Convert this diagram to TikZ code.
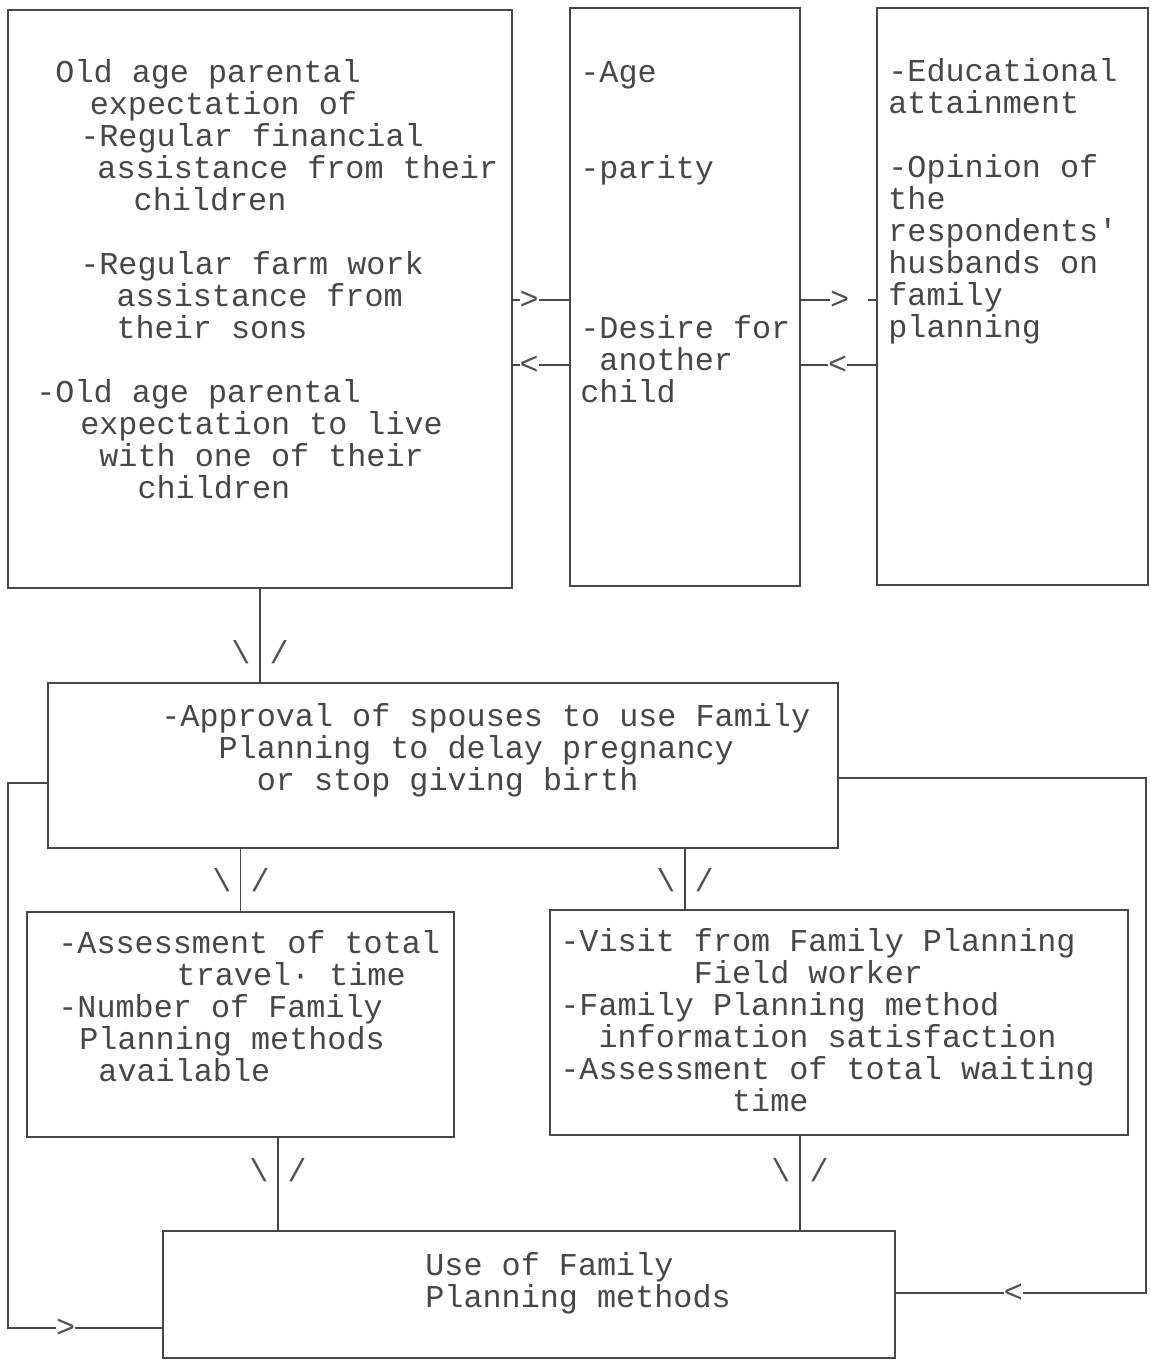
\documentclass[tikz,border=0pt]{standalone}
\usepackage{fontspec}
\usetikzlibrary{fit}
\newfontfamily\typew{Liberation Mono}
\newlength\cw
\setlength\cw{9.54pt}
\newcommand\ind[1]{\hspace*{#1\cw}}
\tikzset{
  box/.style={draw=black!72, line width=0.85pt, inner sep=0pt},
  link/.style={draw=black!72, line width=0.85pt},
  txt/.style={font=\typew\fontsize{15.9}{16}\selectfont, text=black!72, inner sep=0pt, align=left, anchor=base west},
  tipsign/.style={font=\typew\fontsize{15.9}{16}\selectfont, text=black!68, fill=white, inner sep=0pt},
  downsign/.style={font=\typew\fontsize{15.9}{16}\selectfont, text=black!68, inner sep=0pt}
}
\begin{document}
\begin{tikzpicture}[x=0.5pt,y=-0.5pt]
\useasboundingbox (0,0) rectangle (1151,1360);
\node[box, fit={(8,10) (512,588)}] (expect) {};
\node[box, fit={(570,8) (800,586)}] (ageb) {};
\node[box, fit={(877,8) (1148,585)}] (educ) {};
\node[box, fit={(48,683) (838,848)}] (approv) {};
\node[box, fit={(27,912) (454,1137)}] (access) {};
\node[box, fit={(550,910) (1128,1135)}] (visit) {};
\node[box, fit={(163,1231) (895,1358)}] (use) {};
% the base anchor of these is the baseline of the last line
\node[txt] (expecttxt) at (36,498) {\ind{1}Old age parental\\
\ind{2.8}expectation of\\
\ind{2.3}-Regular financial\\
\ind{3.2}assistance from their\\
\ind{5.1}children\\[16pt]
\ind{2.3}-Regular farm work\\
\ind{4.2}assistance from\\
\ind{4.2}their sons\\[16pt]
-Old age parental\\
\ind{2.3}expectation to live\\
\ind{3.3}with one of their\\
\ind{5.3}children};
\node[txt] (agetxt) at (580,402) {-Age\\[32pt]
-parity\\[64pt]
-Desire for\\
\ind{1}another\\
child};
\node[txt] (eductxt) at (888,337) {-Educational\\
attainment\\[16pt]
-Opinion of\\
the\\
respondents'\\
husbands on\\
family\\
planning};
\node[txt] (approvtxt) at (161,790) {-Approval of spouses to use Family\\
\ind{3}Planning to delay pregnancy\\
\ind{5}or stop giving birth};
\node[txt] (accesstxt) at (58,1081) {-Assessment of total\\
\ind{6.2}travel· time\\
-Number of Family\\
\ind{1.1}Planning methods\\
\ind{2.1}available};
\node[txt] (visittxt) at (560,1111) {-Visit from Family Planning\\
\ind{7}Field worker\\
-Family Planning method\\
\ind{2}information satisfaction\\
-Assessment of total waiting\\
\ind{9}time};
\node[txt] (usetxt) at (425,1307) {Use of Family\\
Planning methods};
\draw[link] (expect.east |- 0,300) -- node[tipsign,pos=0.29] {>} (ageb.west |- 0,300);
\draw[link] (expect.east |- 0,365) -- node[tipsign,pos=0.29] {<} (ageb.west |- 0,365);
\draw[link] (ageb.east |- 0,300) -- node[tipsign,pos=0.377,anchor=west] {\makebox[1.2em][l]{>}} (educ.west |- 0,300);
\draw[link] (ageb.east |- 0,365) -- node[tipsign,pos=0.49] {<} (educ.west |- 0,365);
\draw[link] (expect.south) -- (expect.south |- approv.north);
\node[downsign] (markA) at (260,652) {\textbackslash\hspace{0.6em}/};
\draw[link] (access.north |- approv.south) -- (access.north);
\node[downsign] (markE) at (241,880) {\textbackslash\hspace{0.6em}/};
\draw[link] (685,0 |- approv.south) -- (685,0 |- visit.north);
\node[downsign] (markF) at (685,880) {\textbackslash\hspace{0.6em}/};
\draw[link] (278,0 |- access.south) -- (278,0 |- use.north);
\node[downsign] (markEG) at (278,1170) {\textbackslash\hspace{0.6em}/};
\draw[link] (800,0 |- visit.south) -- (800,0 |- use.north);
\node[downsign] (markFG) at (800,1170) {\textbackslash\hspace{0.6em}/};
\draw[link] (approv.west |- 0,783) -| (8,1328) -- node[tipsign,pos=0.374] {>} (use.west |- 0,1328);
\draw[link] (approv.east |- 0,778) -| (1146,1293) -- node[tipsign,pos=0.53] {<} (use.east |- 0,1293);
\end{tikzpicture}
\end{document}
